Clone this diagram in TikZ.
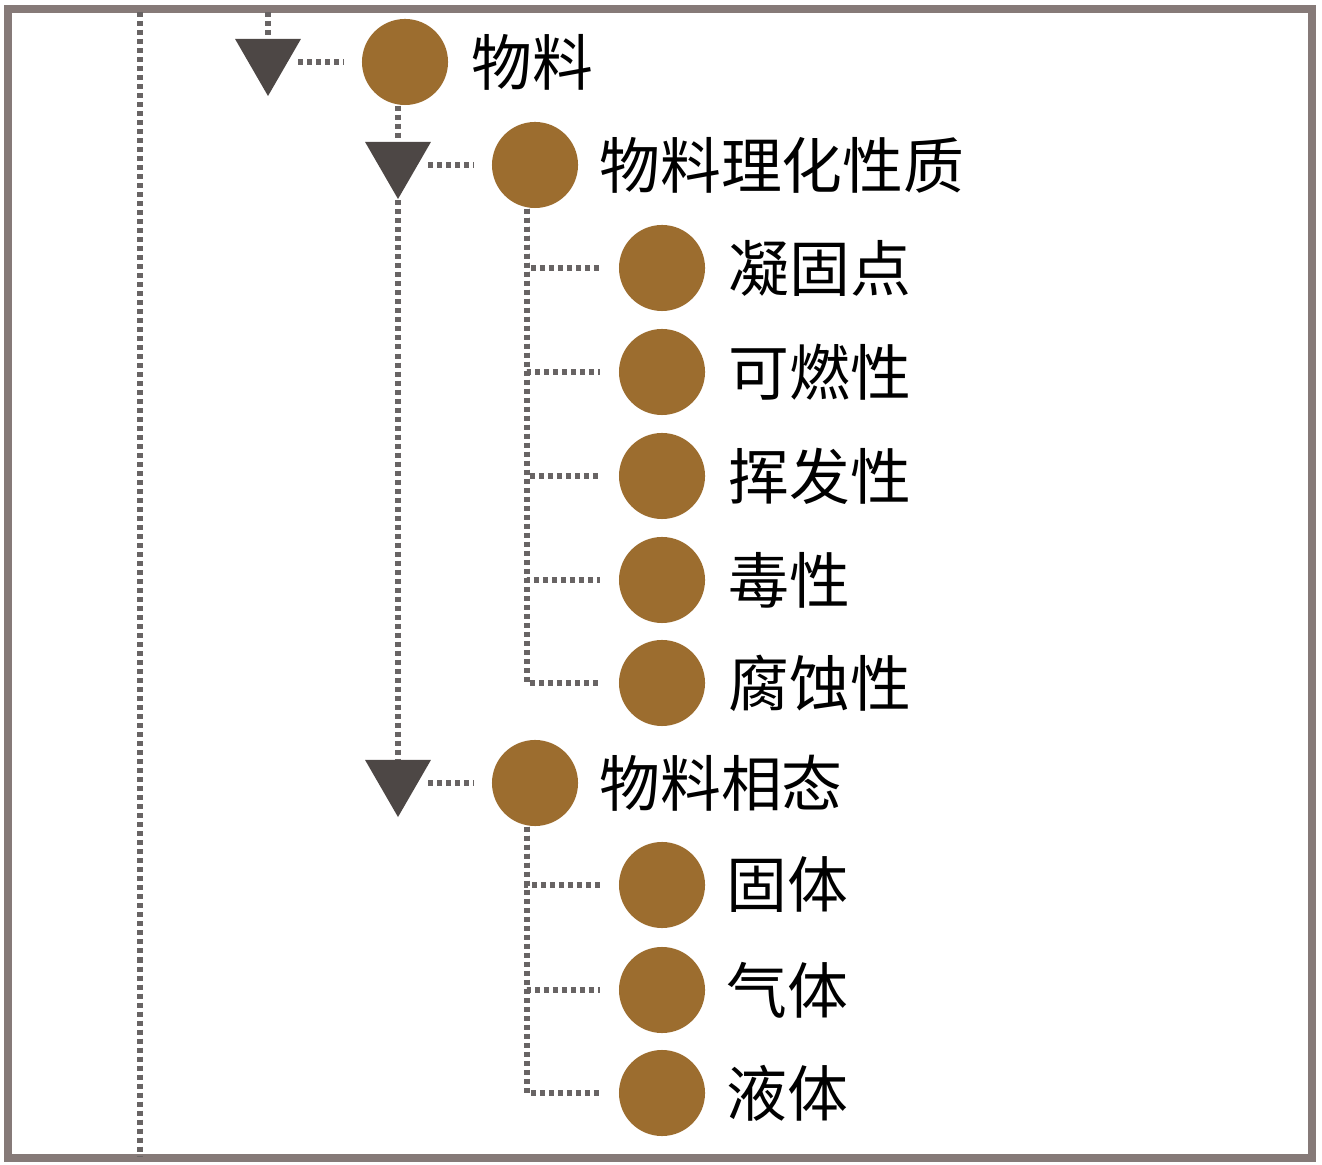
\documentclass[tikz,border=0pt]{standalone}
\usepackage{fontspec}
\setmainfont{Noto Sans CJK SC}
\usetikzlibrary{positioning,shapes.geometric}
\definecolor{ballbrown}{HTML}{9C6D2F}
\definecolor{tridark}{HTML}{4D4745}
\definecolor{dotgray}{HTML}{686464}
\definecolor{framegray}{HTML}{867A78}
\begin{document}
\begin{tikzpicture}[x=0.01cm, y=-0.01cm,
    ball/.style = {circle, fill=ballbrown, minimum size=0.86cm, inner sep=0pt},
    tri/.style = {regular polygon, regular polygon sides=3, shape border rotate=180,
                  fill=tridark, minimum size=0.76cm, inner sep=0pt},
    dots/.style = {dotgray, line width=0.055cm, dash pattern=on 0.05cm off 0.04cm},
    txt/.style = {font=\fontsize{17.3pt}{20pt}\selectfont, inner sep=0pt}]

    \useasboundingbox (0,0) rectangle (1322,1165);
    \fill[white] (0,0) rectangle (1322,1165);
    \draw[framegray, line width=0.08cm] (8,9) rectangle (1312,1158);

    % level 1
    \node[tri] (t1) at (268,58) {};
    \node[ball] (1) at (405,62) {};
    \node[txt, right=0.22cm of 1] (1t) {物料};

    % level 2
    \node[tri] (t2) at (398,161) {};
    \node[ball] (2) at (535,165) {};
    \node[txt, right=0.2cm of 2] (2t) {物料理化性质};

    \node[tri] (t3) at (398,779) {};
    \node[ball] (3) at (535,783) {};
    \node[txt, right=0.2cm of 3] (3t) {物料相态};

    % leaves
    \node[ball] (21) at (662,268) {};
    \node[txt, right=0.22cm of 21] (21t) {凝固点};
    \node[ball] (22) at (662,372) {};
    \node[txt, right=0.22cm of 22] (22t) {可燃性};
    \node[ball] (23) at (662,476) {};
    \node[txt, right=0.22cm of 23] (23t) {挥发性};
    \node[ball] (24) at (662,580) {};
    \node[txt, right=0.22cm of 24] (24t) {毒性};
    \node[ball] (25) at (662,683) {};
    \node[txt, right=0.22cm of 25] (25t) {腐蚀性};

    \node[ball] (31) at (662,885) {};
    \node[txt, right=0.2cm of 31] (31t) {固体};
    \node[ball] (32) at (662,990) {};
    \node[txt, right=0.2cm of 32] (32t) {气体};
    \node[ball] (33) at (662,1093) {};
    \node[txt, right=0.2cm of 33] (33t) {液体};

    % dotted links
    \coordinate (top0) at (140,12);
    \coordinate (bot0) at (140,1156);
    \coordinate (top1) at (268,12);
    \draw[dots] (top0) -- (bot0);
    \draw[dots] (top1) -- (t1);
    \draw[dots, shorten <=0.3cm, shorten >=0.17cm] (t1 |- 1) -- (1);
    \draw[dots] (t2 |- 1.south) -- (t2);
    \draw[dots, shorten <=0.3cm, shorten >=0.17cm] (t2 |- 2) -- (2);
    \draw[dots] (t2) -- (t3);
    \draw[dots, shorten <=0.3cm, shorten >=0.17cm] (t3 |- 3) -- (3);

    \draw[dots, shorten >=0.18cm] ([xshift=-0.08cm]2.south) |- (21);
    \draw[dots, shorten >=0.18cm] ([xshift=-0.08cm]2.south) |- (22);
    \draw[dots, shorten >=0.18cm] ([xshift=-0.08cm]2.south) |- (23);
    \draw[dots, shorten >=0.18cm] ([xshift=-0.08cm]2.south) |- (24);
    \draw[dots, shorten >=0.18cm] ([xshift=-0.08cm]2.south) |- (25);

    \draw[dots, shorten >=0.18cm] ([xshift=-0.08cm]3.south) |- (31);
    \draw[dots, shorten >=0.18cm] ([xshift=-0.08cm]3.south) |- (32);
    \draw[dots, shorten >=0.18cm] ([xshift=-0.08cm]3.south) |- (33);

\end{tikzpicture}
\end{document}
